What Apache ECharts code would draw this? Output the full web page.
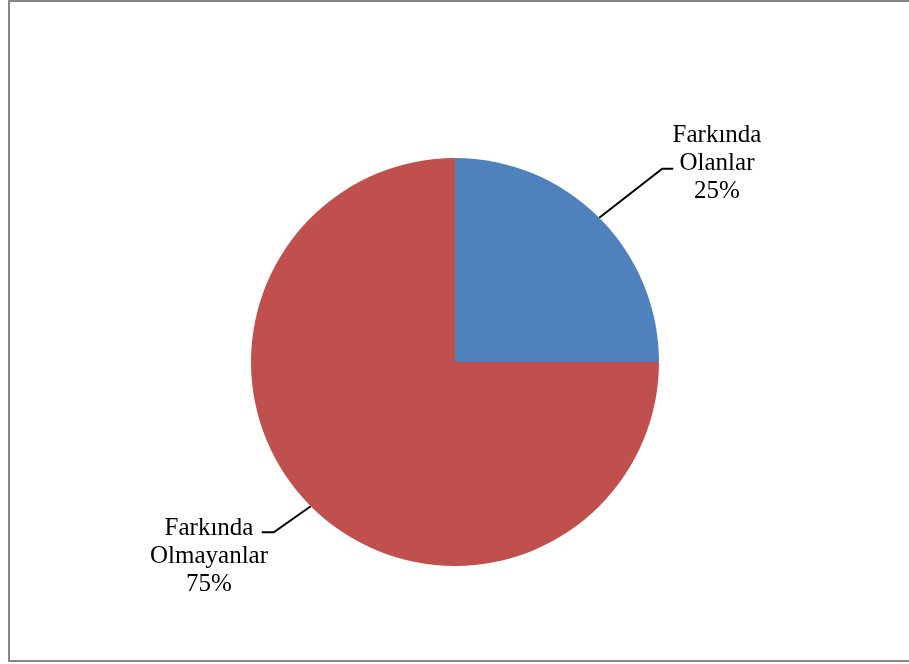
<!DOCTYPE html>
<html>
<head>
<meta charset="utf-8">
<style>
  html, body { margin: 0; padding: 0; background: #ffffff; }
  #chart { width: 909px; height: 664px; }
</style>
<script src="https://cdn.jsdelivr.net/npm/echarts@6/dist/echarts.min.js"></script>
</head>
<body>
<div id="chart"></div>
<script>
// Awareness split
const categories = ['Farkında\nOlanlar', 'Farkında\nOlmayanlar'];
const shares = [25, 75];
const sliceColors = ['#4F81BD', '#C0504D'];

const CX = 455, CY = 362, R = 204;

// Where each label sits (relative to the pie centre) and where its leader bends
const labelPlacement = [
  { cx: 262, cy: -199, elbow: [63, -49], run: 11 },
  { cx: -246, cy: 194, elbow: [-37, 26], run: -12 }
];

const chart = echarts.init(document.getElementById('chart'), null, { renderer: 'canvas' });

chart.setOption({
  backgroundColor: '#ffffff',
  animation: false,
  graphic: [{
    type: 'rect',
    shape: { x: 9, y: 1, width: 920, height: 660 },
    style: { fill: 'none', stroke: '#878787', lineWidth: 2 },
    silent: true
  }],
  series: [{
    type: 'pie',
    center: [CX, CY],
    radius: [0, R],
    startAngle: 90,
    clockwise: true,
    percentPrecision: 0,
    data: categories.map((name, i) => ({
      name: name,
      value: shares[i],
      itemStyle: { color: sliceColors[i] }
    })),
    itemStyle: { borderWidth: 0 },
    label: {
      show: true,
      position: 'outside',
      formatter: '{b}\n{d}%',
      fontFamily: 'Liberation Serif',
      fontSize: 25,
      lineHeight: 28,
      color: '#000000',
      align: 'center'
    },
    labelLine: {
      show: true,
      length: 40,
      length2: 10,
      lineStyle: { color: '#000000', width: 2 }
    },
    labelLayout: function (params) {
      const p = labelPlacement[params.dataIndex];
      const start = params.labelLinePoints[0];
      const elbow = [start[0] + p.elbow[0], start[1] + p.elbow[1]];
      const end = [elbow[0] + p.run, elbow[1]];
      return {
        x: CX + p.cx,
        y: CY + p.cy,
        align: 'center',
        verticalAlign: 'middle',
        labelLinePoints: [start, elbow, end]
      };
    }
  }]
});
</script>
</body>
</html>
